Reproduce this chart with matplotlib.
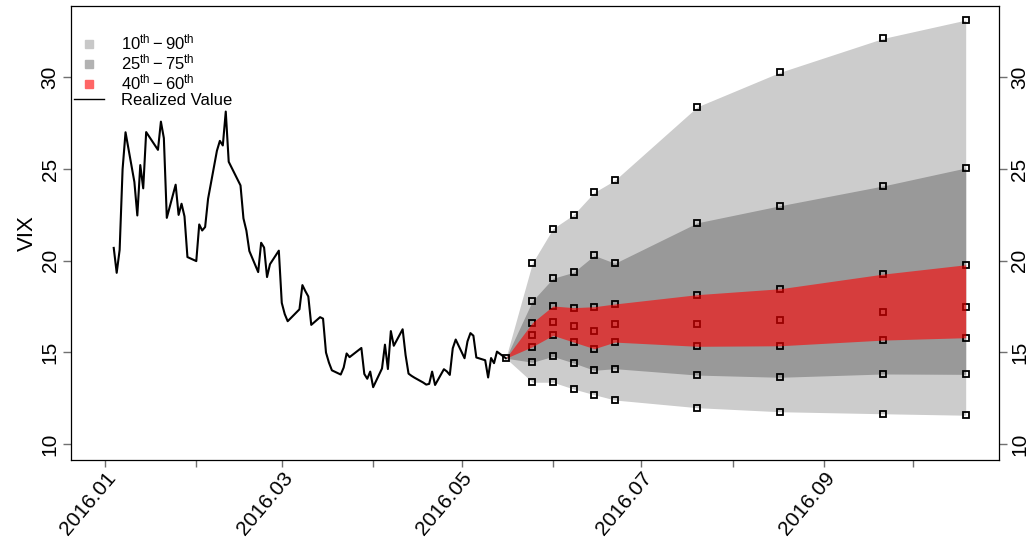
import numpy as np
import pandas as pd
import matplotlib
matplotlib.use('Agg')
import matplotlib.pyplot as plt
import matplotlib.dates as mdates
from matplotlib.lines import Line2D

plt.rcParams['font.family'] = ['Liberation Sans', 'DejaVu Sans']
plt.rcParams['mathtext.fontset'] = 'custom'
plt.rcParams['mathtext.rm'] = 'Liberation Sans'
plt.rcParams['mathtext.it'] = 'Liberation Sans:italic'

# realized VIX closes
vix_dates = [
    '2016-01-04', '2016-01-05', '2016-01-06', '2016-01-07', '2016-01-08',
    '2016-01-11', '2016-01-12', '2016-01-13', '2016-01-14', '2016-01-15',
    '2016-01-19', '2016-01-20', '2016-01-21', '2016-01-22',
    '2016-01-25', '2016-01-26', '2016-01-27', '2016-01-28', '2016-01-29',
    '2016-02-01', '2016-02-02', '2016-02-03', '2016-02-04', '2016-02-05',
    '2016-02-08', '2016-02-09', '2016-02-10', '2016-02-11', '2016-02-12',
    '2016-02-16', '2016-02-17', '2016-02-18', '2016-02-19',
    '2016-02-22', '2016-02-23', '2016-02-24', '2016-02-25', '2016-02-26',
    '2016-02-29', '2016-03-01', '2016-03-02', '2016-03-03', '2016-03-04',
    '2016-03-07', '2016-03-08', '2016-03-09', '2016-03-10', '2016-03-11',
    '2016-03-14', '2016-03-15', '2016-03-16', '2016-03-17', '2016-03-18',
    '2016-03-21', '2016-03-22', '2016-03-23', '2016-03-24',
    '2016-03-28', '2016-03-29', '2016-03-30', '2016-03-31', '2016-04-01',
    '2016-04-04', '2016-04-05', '2016-04-06', '2016-04-07', '2016-04-08',
    '2016-04-11', '2016-04-12', '2016-04-13', '2016-04-14', '2016-04-15',
    '2016-04-18', '2016-04-19', '2016-04-20', '2016-04-21', '2016-04-22',
    '2016-04-25', '2016-04-26', '2016-04-27', '2016-04-28', '2016-04-29',
    '2016-05-02', '2016-05-03', '2016-05-04', '2016-05-05', '2016-05-06',
    '2016-05-09', '2016-05-10', '2016-05-11', '2016-05-12', '2016-05-13',
    '2016-05-16',
]
vix_close = [
    20.70, 19.34, 20.59, 24.99, 27.01,
    24.30, 22.47, 25.22, 23.95, 27.02,
    26.05, 27.59, 26.69, 22.34,
    24.15, 22.50, 23.11, 22.42, 20.20,
    19.98, 21.98, 21.65, 21.84, 23.38,
    26.00, 26.54, 26.29, 28.14, 25.40,
    24.11, 22.31, 21.64, 20.53,
    19.38, 20.98, 20.72, 19.11, 19.81,
    20.55, 17.70, 17.09, 16.70, 16.86,
    17.35, 18.67, 18.34, 18.05, 16.50,
    16.92, 16.84, 14.99, 14.44, 14.02,
    13.79, 14.17, 14.94, 14.74,
    15.24, 13.82, 13.56, 13.95, 13.10,
    14.12, 15.42, 14.09, 16.16, 15.36,
    16.26, 14.85, 13.84, 13.72, 13.62,
    13.35, 13.24, 13.28, 13.95, 13.22,
    14.08, 13.96, 13.77, 15.22, 15.70,
    14.68, 15.60, 16.05, 15.91, 14.72,
    14.57, 13.63, 14.69, 14.41, 15.04,
    14.68,
]

# forecast horizons and quantiles
fc_dates = ['2016-05-25', '2016-06-01', '2016-06-08', '2016-06-15', '2016-06-22',
            '2016-07-20', '2016-08-17', '2016-09-21', '2016-10-19']
q90 = [19.87, 21.75, 22.51, 23.73, 24.39, 28.40, 30.28, 32.13, 33.13]
q75 = [17.80, 19.04, 19.37, 20.29, 19.86, 22.07, 23.00, 24.08, 25.06]
q60 = [16.62, 17.53, 17.44, 17.49, 17.64, 18.15, 18.47, 19.27, 19.78]
q50 = [15.93, 16.67, 16.44, 16.16, 16.53, 16.56, 16.75, 17.22, 17.49]
q40 = [15.31, 15.93, 15.56, 15.20, 15.56, 15.33, 15.36, 15.67, 15.80]
q25 = [14.46, 14.78, 14.42, 14.02, 14.11, 13.76, 13.64, 13.82, 13.80]
q10 = [13.37, 13.37, 13.00, 12.69, 12.40, 11.98, 11.76, 11.65, 11.57]

d_real = pd.to_datetime(vix_dates)
d_fc = pd.to_datetime(fc_dates)
last_d, last_v = d_real[-1], vix_close[-1]
d_band = pd.DatetimeIndex([last_d]).append(d_fc)

def band(q):
    return np.r_[last_v, q]

fig = plt.figure(figsize=(10.28, 5.44), dpi=100)
ax = fig.add_axes([70.7 / 1028, 1 - 460.3 / 544, (999.3 - 70.7) / 1028, (460.3 - 6) / 544])

ax.fill_between(d_band, band(q10), band(q90), color='#cccccc', lw=0, zorder=1)
ax.fill_between(d_band, band(q25), band(q75), color='#999999', lw=0, zorder=2)
for q in [q90, q75, q60, q50, q40, q25, q10]:
    ax.plot(d_fc, q, ls='none', marker='s', ms=3.8, mfc='none', mec='black', mew=1.3, zorder=3)
ax.fill_between(d_band, band(q40), band(q60), color='#ff0000', alpha=0.6, lw=0, zorder=4)

ax.plot(d_real, vix_close, color='black', lw=1.5, zorder=5)
ax.plot([last_d], [last_v], ls='none', marker='s', ms=3.8, mfc='none', mec='black', mew=1.3, zorder=6)

jan1 = mdates.date2num(pd.Timestamp('2016-01-01'))
ax.set_xlim(jan1 - 11.6, jan1 + 303.4)
ax.set_ylim(9.11, 33.9)

months = pd.date_range('2016-01-01', '2016-10-01', freq='MS')
ax.set_xticks(months)
ax.set_xticklabels([m.strftime('%Y.%m') if m.month % 2 == 1 and m.month < 10 else '' for m in months],
                   rotation=50, ha='right', va='top', rotation_mode='anchor', fontsize=15)
ax.tick_params(axis='x', length=5, width=1, color='#707070', pad=1)

ax.set_yticks([10, 15, 20, 25, 30])
ax.tick_params(axis='y', which='both', left=True, right=True, labelleft=True, labelright=True,
               length=6, width=1, color='#707070', labelsize=15, labelrotation=90, pad=2)
for lab in ax.get_yticklabels():
    lab.set_va('center')
ax.set_ylabel('VIX', fontsize=16, labelpad=2)

for s in ax.spines.values():
    s.set_linewidth(0.9)

handles = [
    Line2D([], [], ls='none', marker='s', ms=6, color='#c8c8c8'),
    Line2D([], [], ls='none', marker='s', ms=6, color='#b2b2b2'),
    Line2D([], [], ls='none', marker='s', ms=6, color='#ff6666'),
    Line2D([], [], color='black', lw=1),
]
labels = [r'10$^{\mathrm{th}}-$90$^{\mathrm{th}}$',
          r'25$^{\mathrm{th}}-$75$^{\mathrm{th}}$',
          r'40$^{\mathrm{th}}-$60$^{\mathrm{th}}$',
          'Realized Value']
fig.legend(handles, labels, loc='upper left', bbox_to_anchor=(74 / 1028, 1 - 33 / 544),
           frameon=False, fontsize=12, handlelength=1.8, handletextpad=1.0,
           labelspacing=0.0, borderpad=0, borderaxespad=0)

plt.savefig('out.png', dpi=100)
